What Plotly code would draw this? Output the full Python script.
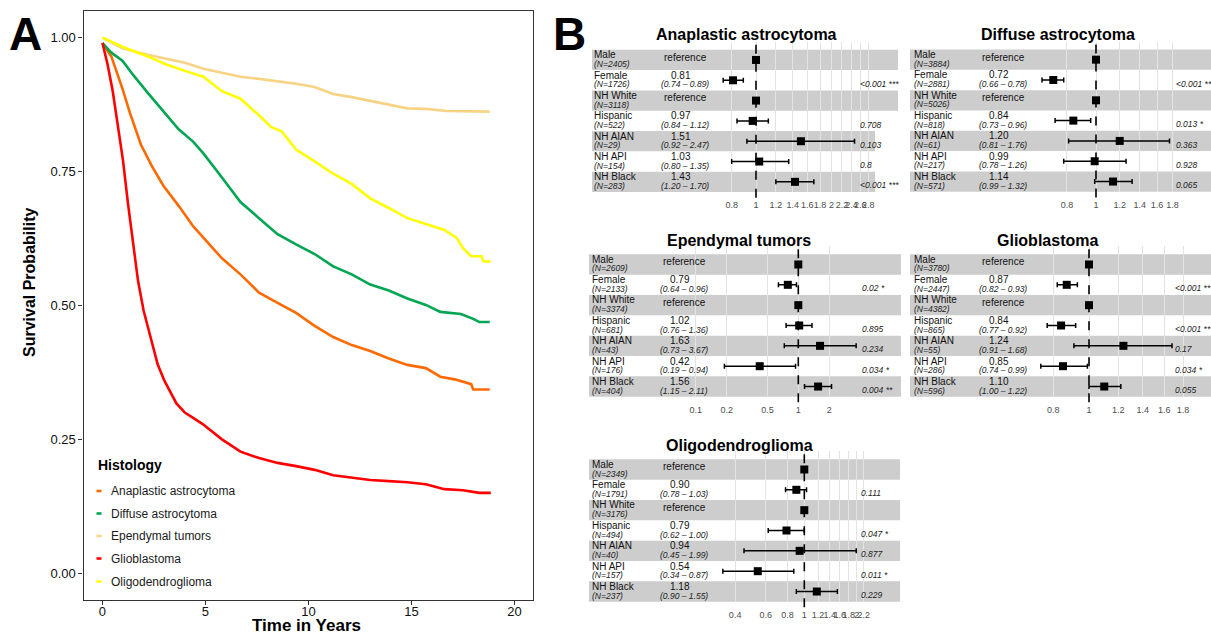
import math
import plotly.graph_objects as go

# ---------------- Panel A data (Kaplan-Meier curves) ----------------
histologies = ["Anaplastic astrocytoma", "Diffuse astrocytoma", "Ependymal tumors",
               "Glioblastoma", "Oligodendroglioma"]
hist_colors = ["#FF6A00", "#00A651", "#F8D384", "#FF0000", "#FFFF00"]

t_aa = [0, 0.43, 0.97, 1.33, 1.87, 2.4, 2.95, 3.7, 4.4, 4.9, 5.8, 6.7, 7.6, 8.5, 9.4, 10.3,
        11.2, 12.1, 13.0, 13.9, 14.8, 15.7, 16.4, 17.1, 17.9, 18.0, 18.8]
s_aa = [0.99, 0.965, 0.905, 0.86, 0.80, 0.76, 0.724, 0.686, 0.648, 0.626, 0.588, 0.558, 0.524,
        0.505, 0.486, 0.462, 0.441, 0.426, 0.415, 0.401, 0.389, 0.383, 0.367, 0.362, 0.353,
        0.343, 0.343]

t_da = [0, 0.43, 0.97, 1.5, 2.2, 2.95, 3.7, 4.4, 4.9, 5.8, 6.7, 7.6, 8.5, 9.4, 10.3, 11.2,
        12.1, 13.0, 13.9, 14.8, 15.7, 16.4, 17.4, 18.0, 18.3, 18.8]
s_da = [0.99, 0.972, 0.957, 0.93, 0.897, 0.863, 0.829, 0.806, 0.784, 0.739, 0.693, 0.663, 0.633,
        0.614, 0.596, 0.573, 0.558, 0.539, 0.528, 0.513, 0.501, 0.488, 0.484, 0.475, 0.469, 0.469]

t_ep = [0, 0.97, 2.2, 3.1, 4.0, 4.9, 5.8, 6.7, 7.6, 8.5, 9.4, 10.3, 11.2, 12.1, 13.0, 13.9,
        14.8, 15.7, 16.7, 18.8]
s_ep = [1.0, 0.98, 0.968, 0.961, 0.953, 0.942, 0.934, 0.927, 0.923, 0.919, 0.914, 0.908, 0.895,
        0.889, 0.882, 0.876, 0.868, 0.867, 0.863, 0.862]

t_gbm = [0, 0.25, 0.5, 0.8, 1.0, 1.24, 1.5, 1.73, 2.0, 2.4, 2.68, 3.0, 3.59, 4.0, 4.85, 5.8,
         6.7, 7.6, 8.5, 9.4, 10.3, 11.2, 12.1, 13.0, 13.9, 14.8, 15.7, 16.6, 17.5, 18.3, 18.85]
s_gbm = [0.99, 0.95, 0.90, 0.82, 0.77, 0.69, 0.61, 0.545, 0.49, 0.43, 0.39, 0.36, 0.317, 0.30,
         0.279, 0.25, 0.227, 0.215, 0.206, 0.20, 0.193, 0.183, 0.178, 0.174, 0.172, 0.17,
         0.166, 0.157, 0.155, 0.15, 0.15]

t_ol = [0, 0.97, 2.2, 3.1, 4.0, 4.9, 5.8, 6.7, 7.6, 8.2, 8.7, 9.4, 10.3, 11.2, 12.1, 13.0,
        13.9, 14.8, 15.7, 16.6, 17.2, 17.5, 17.9, 18.4, 18.5, 18.85]
s_ol = [1.0, 0.983, 0.965, 0.95, 0.938, 0.927, 0.90, 0.886, 0.855, 0.833, 0.825, 0.791, 0.769,
        0.746, 0.727, 0.70, 0.682, 0.663, 0.652, 0.641, 0.626, 0.607, 0.592, 0.592, 0.582, 0.582]

x_ticks_a = [0, 5, 10, 15, 20]
y_ticks_a = [0, 0.25, 0.5, 0.75, 1.0]
y_ticktext_a = ["0.00", "0.25", "0.50", "0.75", "1.00"]

# ---------------- Panel B data (hazard ratios) ----------------
row_labels = ["Male", "Female", "NH White", "Hispanic", "NH AIAN", "NH API", "NH Black"]

aa_n = [2405, 1726, 3118, 522, 29, 154, 283]
aa_hr = [None, 0.81, None, 0.97, 1.51, 1.03, 1.43]
aa_lo = [None, 0.74, None, 0.84, 0.92, 0.80, 1.20]
aa_hi = [None, 0.89, None, 1.12, 2.47, 1.35, 1.70]
aa_p = ["", "<0.001 ***", "", "0.708", "0.103", "0.8", "<0.001 ***"]

da_n = [3884, 2881, 5026, 818, 61, 217, 571]
da_hr = [None, 0.72, None, 0.84, 1.20, 0.99, 1.14]
da_lo = [None, 0.66, None, 0.73, 0.81, 0.78, 0.99]
da_hi = [None, 0.78, None, 0.96, 1.76, 1.26, 1.32]
da_p = ["", "<0.001 ***", "", "0.013 *", "0.363", "0.928", "0.065"]

ep_n = [2609, 2133, 3374, 681, 43, 176, 404]
ep_hr = [None, 0.79, None, 1.02, 1.63, 0.42, 1.56]
ep_lo = [None, 0.64, None, 0.76, 0.73, 0.19, 1.15]
ep_hi = [None, 0.96, None, 1.36, 3.67, 0.94, 2.11]
ep_p = ["", "0.02 *", "", "0.895", "0.234", "0.034 *", "0.004 **"]

gbm_n = [3780, 2447, 4382, 865, 55, 286, 596]
gbm_hr = [None, 0.87, None, 0.84, 1.24, 0.85, 1.10]
gbm_lo = [None, 0.82, None, 0.77, 0.91, 0.74, 1.00]
gbm_hi = [None, 0.93, None, 0.92, 1.68, 0.99, 1.22]
gbm_p = ["", "<0.001 ***", "", "<0.001 ***", "0.17", "0.034 *", "0.055"]

ol_n = [2349, 1791, 3176, 494, 40, 157, 237]
ol_hr = [None, 0.90, None, 0.79, 0.94, 0.54, 1.18]
ol_lo = [None, 0.78, None, 0.62, 0.45, 0.34, 0.90]
ol_hi = [None, 1.03, None, 1.00, 1.99, 0.87, 1.55]
ol_p = ["", "0.111", "", "0.047 *", "0.877", "0.011 *", "0.229"]

aa_ticks = [0.8, 1, 1.2, 1.4, 1.6, 1.8, 2, 2.2, 2.4, 2.6, 2.8]
da_ticks = [0.8, 1, 1.2, 1.4, 1.6, 1.8]
ep_ticks = [0.1, 0.2, 0.5, 1, 2]
gbm_ticks = [0.8, 1, 1.2, 1.4, 1.6, 1.8]
ol_ticks = [0.4, 0.6, 0.8, 1, 1.2, 1.4, 1.6, 1.8, 2, 2.2]

# ---------------- layout helpers ----------------
W, H = 1211, 632
FONT = "Liberation Sans, Arial, sans-serif"


def fx(x):
    return x / W


def fy(y):
    return 1 - y / H


def ann(x, y, text, size, xanchor="center", color="#111111", angle=0):
    return dict(x=fx(x), y=fy(y), xref="paper", yref="paper", showarrow=False,
                xanchor=xanchor, yanchor="middle", text=text, textangle=angle,
                font=dict(size=size, color=color, family=FONT))


fig = go.Figure()
annotations = []
shapes = []

# ---------------- Panel A ----------------
curves = [(t_aa, s_aa), (t_da, s_da), (t_ep, s_ep), (t_gbm, s_gbm), (t_ol, s_ol)]
for name, color, (t, s) in zip(histologies, hist_colors, curves):
    fig.add_trace(go.Scatter(x=t, y=s, mode="lines", name=name, showlegend=False,
                             line=dict(color=color, width=2.6), xaxis="x", yaxis="y",
                             hoverinfo="name+x+y"))

axis_common_a = dict(showline=True, mirror=True, linecolor="#333333", linewidth=1.2,
                     showgrid=False, zeroline=False, ticks="outside", ticklen=4,
                     tickcolor="#333333", tickfont=dict(size=13, color="#111111", family=FONT))
layout_axes = {}
layout_axes["xaxis"] = dict(domain=[fx(83.5), fx(533.4)], range=[-0.92, 20.92],
                            tickvals=x_ticks_a, anchor="y", ticklabelstandoff=-5,
                            **axis_common_a)
layout_axes["yaxis"] = dict(domain=[fy(600), fy(10.9)], range=[-0.05, 1.05],
                            tickvals=y_ticks_a, ticktext=y_ticktext_a, anchor="x",
                            **axis_common_a)

annotations.append(ann(306, 625, "<b>Time in Years</b>", 17, color="black"))
annotations.append(ann(30, 283, "<b>Survival Probability</b>", 16, color="black", angle=-90))
annotations.append(ann(25, 34, "<b>A</b>", 46, color="black"))
annotations.append(ann(569, 34, "<b>B</b>", 46, color="black"))

# manual legend
annotations.append(ann(96, 465, "<b>Histology</b>", 14, xanchor="left", color="black"))
leg_y = [491, 513.5, 536, 558.5, 581.5]
for name, color, ly in zip(histologies, hist_colors, leg_y):
    shapes.append(dict(type="rect", xref="paper", yref="paper", x0=fx(96.5), x1=fx(101.5),
                       y0=fy(ly + 1.3), y1=fy(ly - 1.3), fillcolor=color, line=dict(width=0)))
    annotations.append(ann(109, ly, name, 12, xanchor="left", color="#1a1a1a"))

# ---------------- Panel B ----------------
panels = [
    dict(title="Anaplastic astrocytoma", tx=746.5, ty=35, T=49.8, B=192, L=592, R=898,
         x1=756, k=109, name_x=592, val_x=681, ci_x=685, p_x=858,
         band_r=[898, 898, 875, 875], ticks=aa_ticks,
         n=aa_n, hr=aa_hr, lo=aa_lo, hi=aa_hi, p=aa_p),
    dict(title="Diffuse astrocytoma", tx=1058, ty=35, T=49.5, B=191.7, L=910, R=1211,
         x1=1096, k=130, name_x=911.5, val_x=998.5, ci_x=1003, p_x=1174,
         band_r=[1211, 1211, 1211, 1211], ticks=da_ticks,
         n=da_n, hr=da_hr, lo=da_lo, hi=da_hi, p=da_p),
    dict(title="Ependymal tumors", tx=738.5, ty=240, T=254.3, B=396.7, L=589, R=901,
         x1=798.3, k=44.5, name_x=590, val_x=679.5, ci_x=684, p_x=860,
         band_r=[901, 901, 901, 901], ticks=ep_ticks,
         n=ep_n, hr=ep_hr, lo=ep_lo, hi=ep_hi, p=ep_p),
    dict(title="Glioblastoma", tx=1047, ty=240, T=254.3, B=396.7, L=910, R=1211,
         x1=1089, k=160, name_x=911.5, val_x=999, ci_x=1003, p_x=1173,
         band_r=[1211, 1211, 1211, 1211], ticks=gbm_ticks,
         n=gbm_n, hr=gbm_hr, lo=gbm_lo, hi=gbm_hi, p=gbm_p),
    dict(title="Oligodendroglioma", tx=739.5, ty=445, T=459.3, B=601.7, L=589, R=900,
         x1=804.3, k=75.5, name_x=590, val_x=679.5, ci_x=684, p_x=859,
         band_r=[900, 900, 900, 900], ticks=ol_ticks,
         n=ol_n, hr=ol_hr, lo=ol_lo, hi=ol_hi, p=ol_p),
]

LN10 = math.log(10)
for i, P in enumerate(panels):
    ax = i + 2
    xa, ya = f"x{ax}", f"y{ax}"
    T, B, L, R = P["T"], P["B"], P["L"], P["R"]
    h = (B - T) / 7.0
    a = -(P["x1"] - L) / (P["k"] * LN10)
    b = (R - P["x1"]) / (P["k"] * LN10)
    layout_axes[f"xaxis{ax}"] = dict(
        domain=[fx(L), fx(R)], type="log", range=[a, b], anchor=ya,
        tickvals=P["ticks"], ticktext=[f"{v:g}" for v in P["ticks"]], tickangle=0,
        showgrid=True, gridcolor="#E3E3E3", gridwidth=1, zeroline=False, showline=False,
        ticks="outside", ticklen=4, tickcolor="rgba(0,0,0,0)",
        tickfont=dict(size=9, color="#4D4D4D", family=FONT))
    top_ext = 8.0
    layout_axes[f"yaxis{ax}"] = dict(
        domain=[fy(B), fy(T - top_ext)], range=[6.5, -0.5 - top_ext / h], anchor=xa,
        showgrid=False, zeroline=False, showline=False, showticklabels=False, ticks="")

    # alternating bands
    for j, r in enumerate([0, 2, 4, 6]):
        shapes.append(dict(type="rect", xref="paper", yref="paper", layer="below",
                           x0=fx(L), x1=fx(P["band_r"][j]),
                           y0=fy(T + (r + 1) * h), y1=fy(T + r * h),
                           fillcolor="#CDCDCD", line=dict(width=0)))
    # dashed reference line at HR = 1
    shapes.append(dict(type="line", xref=xa, yref="paper", x0=1, x1=1,
                       y0=fy(T - 5), y1=fy(B + 8),
                       line=dict(color="black", width=1.6, dash="dash")))

    hr_plot = [v if v is not None else 1.0 for v in P["hr"]]
    err_p = [(hi - v) if v is not None else 0 for v, hi in zip(P["hr"], P["hi"])]
    err_m = [(v - lo) if v is not None else 0 for v, lo in zip(P["hr"], P["lo"])]
    fig.add_trace(go.Scatter(
        x=hr_plot, y=list(range(7)), xaxis=xa, yaxis=ya, mode="markers", showlegend=False,
        marker=dict(symbol="square", size=8, color="black"),
        error_x=dict(type="data", symmetric=False, array=err_p, arrayminus=err_m,
                     color="black", thickness=1.5, width=2.5),
        cliponaxis=False, name=P["title"]))

    annotations.append(ann(P["tx"], P["ty"], f"<b>{P['title']}</b>", 16, color="black"))
    for r in range(7):
        top = T + r * h
        annotations.append(ann(P["name_x"], top + 5, row_labels[r], 10, xanchor="left"))
        annotations.append(ann(P["name_x"], top + 14.2, f"<i>(N={P['n'][r]})</i>", 8.5,
                               xanchor="left", color="#222222"))
        if P["hr"][r] is None:
            annotations.append(ann(P["ci_x"], top + 7.5, "reference", 10))
        else:
            annotations.append(ann(P["val_x"], top + 5, f"{P['hr'][r]:.2f}", 10))
            annotations.append(ann(P["ci_x"], top + 14.2,
                                   f"<i>({P['lo'][r]:.2f} – {P['hi'][r]:.2f})</i>", 8.5,
                                   color="#222222"))
        if P["p"][r]:
            ptxt = P["p"][r].replace("<", "&lt;")
            annotations.append(ann(P["p_x"], top + 13.8, f"<i>{ptxt}</i>", 8.5,
                                   xanchor="left", color="#222222"))

fig.update_layout(
    width=W, height=H, margin=dict(l=0, r=0, t=0, b=0),
    paper_bgcolor="white", plot_bgcolor="rgba(0,0,0,0)",
    font=dict(family=FONT, color="black"),
    showlegend=False, annotations=annotations, shapes=shapes, **layout_axes)

fig.write_html("out.html", config={"displayModeBar": False},
               post_script="document.body.style.margin='0px';document.body.style.overflow='hidden';")
